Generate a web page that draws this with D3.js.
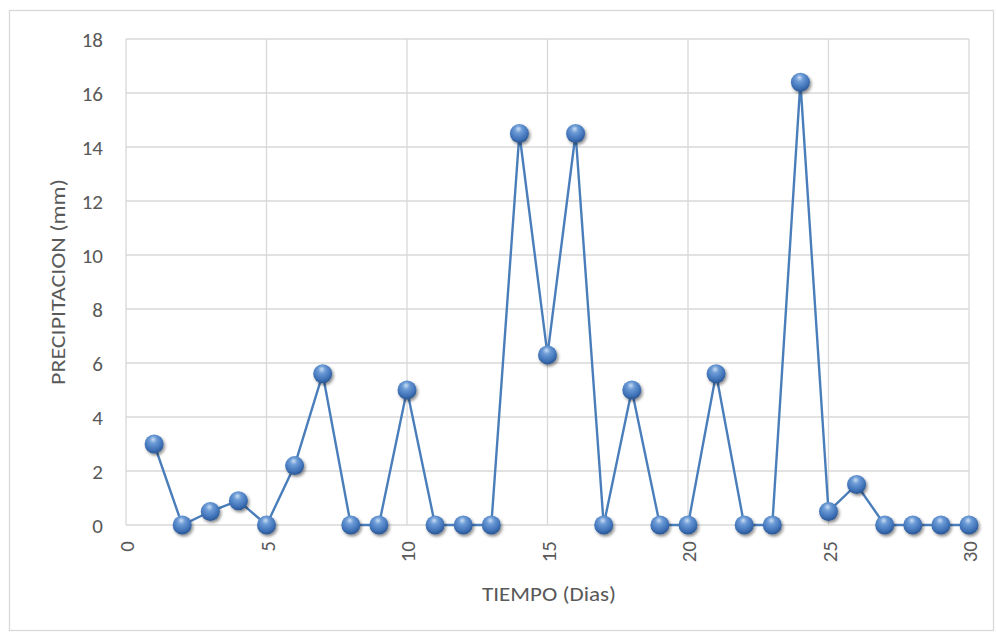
<!DOCTYPE html>
<html><head><meta charset="utf-8">
<script src="https://cdn.jsdelivr.net/npm/d3@7"></script>
<style>body{margin:0;background:#fff;} text{font-family:Calibri,Carlito,Lato,"Liberation Sans",sans-serif;}</style>
</head><body>
<svg id="c" width="996" height="633"></svg>
<script>
const days = [1,2,3,4,5,6,7,8,9,10,11,12,13,14,15,16,17,18,19,20,21,22,23,24,25,26,27,28,29,30];
const precip = [3,0,0.5,0.9,0,2.2,5.6,0,0,5,0,0,0,14.5,6.3,14.5,0,5,0,0,5.6,0,0,16.4,0.5,1.5,0,0,0,0];
const xTicks = [0,5,10,15,20,25,30];
const yTicks = [0,2,4,6,8,10,12,14,16,18];
const xTitle = "TIEMPO (Dias)";
const yTitle = "PRECIPITACION (mm)";

const svg = d3.select("#c");
const L=126,R=969,T=39,B=525;
const x = d3.scaleLinear().domain([0,30]).range([L,R]);
const y = d3.scaleLinear().domain([0,18]).range([B,T]);

svg.append("rect").attr("x",9.5).attr("y",10.5).attr("width",984).attr("height",620).attr("fill","#fff").attr("stroke","#d9d9d9").attr("stroke-width",1.3);

const defs = svg.append("defs");
const g = defs.append("radialGradient").attr("id","ball").attr("cx","45%").attr("cy","35%").attr("r","65%").attr("fx","45%").attr("fy","25%");
g.append("stop").attr("offset","0%").attr("stop-color","#c9ddf3");
g.append("stop").attr("offset","30%").attr("stop-color","#6c9bd6");
g.append("stop").attr("offset","75%").attr("stop-color","#3f72b8");
g.append("stop").attr("offset","100%").attr("stop-color","#2a5590");
const f = defs.append("filter").attr("id","sh").attr("x","-50%").attr("y","-50%").attr("width","200%").attr("height","200%");
f.append("feDropShadow").attr("dx",1.5).attr("dy",2).attr("stdDeviation",1.8).attr("flood-color","#000").attr("flood-opacity",0.45);

// gridlines
svg.append("g").selectAll("line").data(yTicks).join("line")
 .attr("x1",L).attr("x2",R).attr("y1",d=>y(d)).attr("y2",d=>y(d)).attr("stroke","#d9d9d9").attr("stroke-width",1.3);
svg.append("g").selectAll("line").data(xTicks).join("line")
 .attr("x1",d=>x(d)).attr("x2",d=>x(d)).attr("y1",T).attr("y2",B).attr("stroke","#d9d9d9").attr("stroke-width",1.3);

const FF = 'Calibri,Carlito,Lato,"Liberation Sans",sans-serif';
// y axis labels
const ya = svg.append("g").attr("transform",`translate(${L-23},0)`)
 .call(d3.axisLeft(y).tickValues(yTicks).tickSize(0).tickPadding(0));
ya.select(".domain").remove();
ya.selectAll("text").attr("font-size",21).attr("fill","#595959").attr("font-family",FF).attr("dy","0.36em");

// x axis labels rotated
const xa = svg.append("g").attr("transform",`translate(0,${B})`)
 .call(d3.axisBottom(x).tickValues(xTicks).tickSize(0).tickFormat(d3.format("d")));
xa.select(".domain").remove();
xa.selectAll("text").attr("font-size",21).attr("fill","#595959").attr("font-family",FF)
 .attr("transform","rotate(-90)").attr("text-anchor","end").attr("x",-16).attr("y",0).attr("dy","0.36em");

// line
svg.append("path").datum(days.map((d,i)=>[d,precip[i]]))
 .attr("d",d3.line().x(d=>x(d[0])).y(d=>y(d[1])))
 .attr("fill","none").attr("stroke","#4a7ebb").attr("stroke-width",2.4);

// markers
svg.append("g").selectAll("circle").data(days.map((d,i)=>[d,precip[i]])).join("circle")
 .attr("cx",d=>x(d[0])).attr("cy",d=>y(d[1])).attr("r",9.5)
 .attr("fill","url(#ball)").attr("filter","url(#sh)");

// titles
svg.append("text").attr("x",549).attr("y",601).attr("text-anchor","middle").attr("font-size",21).attr("fill","#595959")
 .attr("textLength",134).attr("lengthAdjust","spacingAndGlyphs").text(xTitle);
svg.append("text").attr("transform",`translate(65,282) rotate(-90)`).attr("text-anchor","middle").attr("font-size",21).attr("fill","#595959")
 .attr("textLength",206).attr("lengthAdjust","spacingAndGlyphs").text(yTitle);
</script>
</body></html>
